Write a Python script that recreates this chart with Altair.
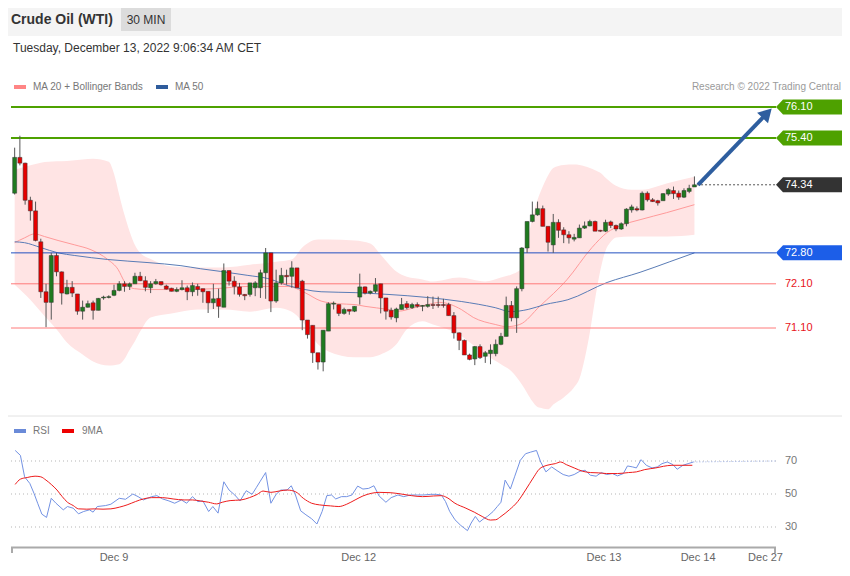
import altair as alt
import pandas as pd
import numpy as np

# ---------------- data ----------------
opens = [74.15, 74.96, 74.83, 73.99, 73.75, 73.05, 71.92, 71.68, 72.74, 72.37,
         71.87, 72.02, 71.87, 71.48, 71.57, 71.67, 71.50, 71.78, 71.79, 71.84,
         71.95, 72.10, 72.04, 72.10, 72.27, 72.17, 72.01, 72.10, 72.15, 72.05,
         72.00, 71.93, 71.97, 72.01, 71.92, 72.04, 71.99, 71.93, 71.67, 71.77,
         71.57, 72.40, 72.16, 72.03, 71.86, 71.86, 72.01, 72.01, 72.35, 72.80,
         71.71, 72.12, 72.29, 72.27, 72.46, 72.16, 71.28, 71.16, 70.54, 70.33,
         71.03, 71.64, 71.63, 71.43, 71.52, 71.48, 71.80, 72.03, 71.89, 71.93,
         72.10, 71.78, 71.50, 71.33, 71.52, 71.65, 71.56, 71.63, 71.59, 71.59,
         71.63, 71.63, 71.63, 71.63, 71.38, 70.99, 70.82, 70.49, 70.40, 70.68,
         70.46, 70.52, 70.52, 70.73, 70.91, 71.61, 71.33, 71.99, 72.91, 73.51,
         73.66, 73.80, 73.40, 72.98, 73.49, 73.32, 73.21, 73.11, 73.14, 73.36,
         73.41, 73.51, 73.31, 73.29, 73.50, 73.42, 73.34, 73.46, 73.77, 73.80,
         73.77, 74.15, 74.00, 73.98, 73.98, 74.13, 74.21, 74.15, 74.06, 74.19,
         74.29]
highs = [75.18, 75.45, 74.84, 74.07, 73.96, 73.12, 72.10, 72.80, 72.80, 72.38,
         72.19, 72.16, 71.87, 71.72, 71.72, 71.72, 71.78, 71.83, 71.84, 72.08,
         72.16, 72.16, 72.13, 72.35, 72.37, 72.27, 72.16, 72.21, 72.15, 72.08,
         72.01, 72.02, 72.18, 72.06, 72.13, 72.10, 71.99, 71.93, 72.10, 71.99,
         72.56, 72.40, 72.27, 72.12, 71.87, 72.12, 72.16, 72.42, 72.91, 72.80,
         72.42, 72.46, 72.42, 72.61, 72.46, 72.19, 71.28, 71.16, 70.54, 71.05,
         71.68, 71.70, 71.63, 71.56, 71.52, 71.59, 72.33, 72.04, 71.95, 72.23,
         72.10, 71.78, 71.56, 71.56, 71.78, 71.71, 71.67, 71.68, 71.62, 71.82,
         71.81, 71.81, 71.76, 71.67, 71.46, 71.00, 70.84, 70.52, 70.69, 70.73,
         70.58, 70.73, 70.84, 70.99, 71.81, 71.71, 72.04, 72.93, 73.51, 73.96,
         73.96, 73.87, 73.40, 73.68, 73.56, 73.38, 73.29, 73.23, 73.44, 73.51,
         73.55, 73.53, 73.32, 73.55, 73.53, 73.44, 73.49, 73.81, 73.89, 73.85,
         74.19, 74.19, 74.04, 74.00, 74.15, 74.26, 74.30, 74.21, 74.26, 74.34,
         74.53]
lows = [74.12, 74.78, 73.89, 73.53, 73.06, 71.78, 71.12, 71.29, 72.27, 71.63,
        71.86, 71.80, 71.40, 71.29, 71.56, 71.29, 71.50, 71.74, 71.77, 71.82,
        71.93, 71.92, 71.96, 72.10, 72.16, 71.93, 71.89, 72.08, 72.06, 71.97,
        71.93, 71.91, 71.95, 71.73, 71.82, 71.83, 71.67, 71.44, 71.53, 71.33,
        71.57, 72.06, 71.86, 71.81, 71.73, 71.81, 71.82, 71.78, 71.76, 71.46,
        71.67, 72.08, 72.08, 72.01, 72.01, 71.05, 70.86, 70.31, 70.16, 70.12,
        71.03, 71.52, 71.37, 71.40, 71.40, 71.46, 71.63, 71.86, 71.86, 71.89,
        71.43, 71.29, 71.29, 71.23, 71.52, 71.52, 71.53, 71.56, 71.48, 71.56,
        71.53, 71.56, 71.56, 71.38, 70.86, 70.60, 70.49, 70.37, 70.26, 70.40,
        70.31, 70.28, 70.46, 70.71, 70.91, 71.25, 70.99, 71.93, 72.80, 73.49,
        73.64, 73.40, 72.83, 72.80, 73.14, 73.02, 73.01, 73.06, 73.14, 73.34,
        73.40, 73.29, 73.27, 73.27, 73.36, 73.29, 73.32, 73.40, 73.71, 73.74,
        73.76, 73.96, 73.95, 73.87, 73.98, 74.09, 74.02, 74.00, 74.04, 74.15,
        74.29]
closes = [74.96, 74.83, 73.99, 73.75, 73.08, 71.92, 71.68, 72.74, 72.37, 71.89,
          72.02, 71.89, 71.48, 71.57, 71.65, 71.50, 71.77, 71.80, 71.81, 71.95,
          72.10, 72.04, 72.10, 72.27, 72.17, 72.02, 72.10, 72.15, 72.08, 71.98,
          71.93, 71.97, 72.01, 71.92, 72.06, 71.97, 71.92, 71.67, 71.76, 71.59,
          72.40, 72.16, 72.04, 71.86, 71.83, 72.12, 72.12, 72.35, 72.80, 71.71,
          72.12, 72.29, 72.26, 72.46, 72.01, 71.28, 70.95, 70.54, 70.33, 71.05,
          71.65, 71.66, 71.43, 71.52, 71.48, 71.59, 72.03, 71.89, 71.93, 72.08,
          71.78, 71.48, 71.35, 71.53, 71.63, 71.56, 71.63, 71.59, 71.61, 71.63,
          71.61, 71.61, 71.61, 71.38, 70.99, 70.82, 70.49, 70.39, 70.68, 70.43,
          70.54, 70.60, 70.73, 70.91, 71.61, 71.33, 71.99, 72.91, 73.51, 73.66,
          73.80, 73.40, 73.04, 73.49, 73.31, 73.21, 73.14, 73.15, 73.36, 73.41,
          73.51, 73.29, 73.29, 73.49, 73.42, 73.34, 73.46, 73.79, 73.84, 73.77,
          74.15, 74.00, 73.96, 73.93, 74.14, 74.23, 74.14, 74.06, 74.21, 74.26,
          74.34]

band_idx = [0, 3, 5, 8, 10, 13, 15, 18, 19, 20, 21, 22, 23, 24, 26, 30, 35, 40, 45, 50,
            53, 55, 58, 60, 65, 68, 70, 73, 75, 78, 80, 85, 90, 93, 95, 97, 98, 99, 100, 101,
            102, 103, 105, 107, 108, 109, 110, 111, 112, 113, 114, 115, 118, 120, 125, 130]
band_upper = [74.68, 74.78, 74.84, 74.87, 74.88, 74.91, 74.93, 74.86, 74.59, 74.11,
              73.66, 73.28, 72.98, 72.80, 72.66, 72.49, 72.47, 72.47, 72.53, 72.60,
              72.65, 72.92, 73.10, 73.10, 73.08, 73.01, 72.76, 72.38, 72.26, 72.20,
              72.15, 72.24, 72.15, 72.24, 72.31, 72.45, 73.00, 73.60, 74.00, 74.30,
              74.55, 74.72, 74.79, 74.80, 74.79, 74.76, 74.72, 74.67, 74.61, 74.50,
              74.40, 74.32, 74.23, 74.23, 74.38, 74.52]
band_lower = [72.08, 71.74, 71.47, 71.07, 70.77, 70.50, 70.34, 70.25, 70.26, 70.28,
              70.40, 70.61, 70.80, 71.02, 71.34, 71.43, 71.52, 71.52, 71.47, 71.56,
              71.47, 71.25, 70.73, 70.57, 70.44, 70.44, 70.50, 70.73, 71.07, 71.25,
              71.18, 70.95, 70.50, 70.28, 70.12, 69.82, 69.63, 69.44, 69.31, 69.28,
              69.26, 69.37, 69.53, 69.76, 69.95, 70.40, 71.00, 71.75, 72.40, 72.85,
              73.05, 73.15, 73.17, 73.17, 73.17, 73.21]

ma20_idx = [0, 1.9, 3.8, 5.7, 8.3, 11.5, 14.6, 17.8, 19.8, 21.0, 22.9, 25.5, 31.8, 38.3,
            44.6, 52.3, 55.5, 58.6, 61.8, 65.1, 67.0, 71.4, 73.3, 76.5, 79.0, 81.3, 85.4,
            87.7, 91.9, 94.1, 96.6, 100.4, 105.6, 110.4, 113.3, 115.7, 119.6, 124.7, 130.0]
ma20_val = [73.03, 73.14, 73.23, 73.17, 73.08, 72.98, 72.87, 72.65, 72.42, 72.15,
            71.99, 71.97, 71.97, 71.99, 72.04, 72.04, 71.90, 71.71, 71.65, 71.63,
            71.59, 71.52, 71.48, 71.56, 71.63, 71.68, 71.52, 71.34, 71.18, 71.13,
            71.18, 71.59, 72.19, 72.92, 73.26, 73.41, 73.55, 73.71, 73.89]

ma50_idx = [0, 1.9, 5.0, 8.3, 11.5, 17.8, 25.5, 31.8, 35.6, 39.4, 44.6, 48.4, 52.3, 55.5,
            58.6, 65.1, 71.4, 79.0, 85.4, 91.9, 94.9, 98.2, 101.4, 105.8, 113.3, 119.6,
            125.3, 130.0]
ma50_val = [73.05, 73.03, 72.92, 72.80, 72.74, 72.65, 72.58, 72.51, 72.44, 72.38,
            72.29, 72.22, 72.06, 71.97, 71.92, 71.90, 71.86, 71.79, 71.70, 71.56,
            71.47, 71.52, 71.63, 71.74, 72.13, 72.36, 72.60, 72.80]

rsi_idx = [0.1, 1.1, 1.9, 2.9, 3.7, 4.4, 5.2, 6.1, 7.0, 7.9, 9.3, 10.1, 11.2, 12.2, 13.2,
           14.3, 15.0, 15.8, 17.4, 18.4, 20.0, 21.2, 22.6, 23.6, 24.6, 26.2, 27.2, 28.3,
           29.5, 30.6, 31.9, 32.9, 34.0, 35.0, 36.0, 37.1, 37.9, 38.9, 40.0, 41.0, 42.1,
           43.1, 44.3, 45.4, 46.2, 46.9, 48.0, 49.0, 50.0, 50.9, 52.1, 52.9, 53.7, 54.7,
           55.7, 56.8, 57.8, 58.8, 59.7, 60.6, 61.4, 62.5, 63.5, 64.5, 65.6, 66.6, 67.7,
           68.7, 69.7, 71.0, 72.0, 73.3, 74.4, 75.7, 77.0, 78.2, 79.6, 80.6, 81.6, 82.4,
           83.2, 84.2, 85.3, 86.1, 86.6, 87.3, 88.1, 88.9, 89.6, 90.4, 91.5, 92.3, 93.0,
           93.8, 94.8, 95.6, 96.7, 97.7, 98.7, 99.8, 100.6, 101.6, 102.7, 103.9, 104.9,
           106.0, 107.0, 108.1, 109.1, 110.1, 111.2, 112.2, 113.2, 114.3, 115.3, 116.4,
           117.2, 118.2, 118.9, 119.8, 120.8, 121.9, 122.9, 123.8, 124.8, 125.9, 126.7,
           127.8, 128.8, 129.8]
rsi_val = [76.4, 73.4, 60.4, 56.4, 50.4, 44.4, 37.8, 35.8, 47.4, 44.4, 40.4, 42.4, 41.4,
           38.0, 39.4, 40.4, 39.0, 42.4, 43.0, 43.8, 47.4, 46.8, 50.0, 48.4, 46.4, 48.4,
           49.0, 47.0, 45.8, 44.4, 46.4, 44.4, 48.4, 45.4, 45.8, 39.4, 42.4, 38.4, 57.4,
           52.4, 49.4, 45.8, 52.0, 49.8, 53.8, 57.4, 63.0, 44.4, 49.8, 52.4, 52.4, 55.0,
           49.4, 39.8, 37.4, 35.0, 31.8, 39.4, 49.0, 49.4, 47.0, 48.4, 48.4, 49.4, 54.8,
           53.0, 53.4, 55.0, 48.8, 45.0, 47.8, 49.4, 48.4, 49.4, 49.4, 49.4, 49.8, 49.8,
           49.4, 45.4, 39.4, 34.4, 31.0, 29.0, 27.8, 32.4, 36.4, 33.0, 34.8, 36.4, 39.4,
           42.4, 45.0, 58.4, 53.0, 60.4, 70.4, 74.4, 75.4, 76.4, 69.4, 63.4, 66.4, 63.8,
           61.8, 60.8, 61.8, 63.8, 64.4, 61.4, 60.8, 63.0, 61.8, 62.4, 61.0, 62.4, 67.0,
           66.4, 65.8, 70.8, 67.4, 65.8, 66.4, 68.4, 69.4, 67.8, 65.0, 67.4, 68.4, 69.4]

ma9_idx = [0.1, 1.1, 2.4, 3.9, 5.0, 6.0, 7.0, 8.1, 9.1, 10.1, 11.2, 12.2, 13.8, 15.3,
           16.9, 18.4, 20.0, 21.5, 23.1, 24.6, 26.2, 28.3, 30.3, 32.4, 34.0, 35.5, 37.1,
           38.6, 39.7, 41.2, 43.3, 44.9, 46.4, 47.5, 49.0, 50.6, 52.1, 53.7, 55.2, 56.8,
           58.3, 60.4, 62.0, 63.5, 65.1, 66.6, 68.2, 69.7, 71.8, 73.9, 75.9, 78.0, 80.1,
           81.6, 82.7, 84.2, 86.3, 87.9, 89.4, 91.0, 92.0, 93.0, 94.6, 96.2, 97.7, 99.3,
           100.3, 101.8, 103.4, 104.4, 105.5, 107.0, 108.6, 110.1, 111.7, 113.2, 115.3,
           117.4, 118.9, 120.5, 122.6, 124.1, 125.7, 127.8, 129.6]
ma9_val = [55.8, 59.0, 60.0, 60.8, 60.4, 58.4, 55.8, 52.4, 48.4, 45.0, 43.0, 41.0, 40.8,
           41.0, 40.8, 41.0, 42.0, 43.4, 45.4, 47.0, 47.8, 47.8, 47.0, 46.4, 46.4, 45.8,
           45.0, 44.0, 45.0, 46.0, 46.4, 47.8, 49.8, 51.8, 51.0, 51.8, 52.4, 51.4, 47.4,
           44.4, 43.4, 42.8, 42.4, 43.8, 46.4, 48.8, 50.4, 51.0, 50.8, 50.0, 49.0, 48.4,
           48.8, 49.0, 47.8, 44.4, 41.4, 39.0, 36.4, 34.2, 34.4, 36.4, 40.4, 45.4, 52.4,
           60.4, 65.0, 67.4, 68.4, 69.4, 67.8, 65.8, 63.8, 63.0, 62.8, 62.4, 62.4, 63.0,
           63.4, 64.8, 65.8, 66.8, 67.4, 67.4, 67.4]

resistance_levels = [76.10, 75.40]
pivot_level = [72.80]
support_levels = [72.10, 71.10]
last_price = [74.34]
target_idx = [130.7, 143.9]
target_price = [74.34, 75.96]
rsi_levels = [70, 50, 30]
rsi_ext_idx = [129.8, 145.6]
rsi_ext_val = [69.4, 70.0]
xtick_idx = [19.0, 65.8, 112.7, 130.7, 143.6]
xtick_labels = ["Dec 9", "Dec 12", "Dec 13", "Dec 14", "Dec 27"]

# ---------------- tables ----------------
n = len(opens)
candles = pd.DataFrame({"i": np.arange(n), "open": opens, "high": highs,
                        "low": lows, "close": closes})
candles["blo"] = candles[["open", "close"]].min(axis=1)
candles["bhi"] = candles[["open", "close"]].max(axis=1)
candles["dir"] = np.where(candles["close"] >= candles["open"], "up", "down")

band_df = pd.DataFrame({"i": band_idx, "upper": band_upper, "lower": band_lower})
ma20_df = pd.DataFrame({"i": ma20_idx, "v": ma20_val})
ma50_df = pd.DataFrame({"i": ma50_idx, "v": ma50_val})
rsi_df = pd.DataFrame({"i": rsi_idx, "v": rsi_val})
ma9_df = pd.DataFrame({"i": ma9_idx, "v": ma9_val})
rsi_ext_df = pd.DataFrame({"i": rsi_ext_idx, "v": rsi_ext_val})
res_df = pd.DataFrame({"price": resistance_levels})
piv_df = pd.DataFrame({"price": pivot_level})
sup_df = pd.DataFrame({"price": support_levels})
last_df = pd.DataFrame({"price": last_price, "i": [n - 0.5]})
arrow_df = pd.DataFrame({"i": target_idx, "price": target_price})
tags_df = pd.DataFrame({
    "price": resistance_levels + last_price + pivot_level,
    "fill": ["#4ea100", "#4ea100", "#333333", "#1c5ee8"],
})
rsi_lv_df = pd.DataFrame({"level": rsi_levels})
xt_df = pd.DataFrame({"i": xtick_idx, "label": xtick_labels})
one = pd.DataFrame({"k": [0]})

# ---------------- scales ----------------
XS = alt.Scale(domain=[-0.7, 145.6], range=[3, 768], nice=False, zero=False, padding=0)
PS = alt.Scale(domain=[71.10, 76.10], range=[320, 99], nice=False, zero=False, padding=0)
RS = alt.Scale(domain=[30, 70], range=[519, 453], nice=False, zero=False, padding=0)


def xq(f):
    return alt.X(f"{f}:Q", scale=XS, axis=None)


def yp(f):
    return alt.Y(f"{f}:Q", scale=PS, axis=None)


def yr(f):
    return alt.Y(f"{f}:Q", scale=RS, axis=None)


FONT = "Liberation Sans"
TAG = "M -1 0 L -0.8 -0.2143 L 1 -0.2143 L 1 0.2143 L -0.8 0.2143 Z"

layers = []

# header
layers.append(alt.Chart(one).mark_rect(color="#f4f4f4").encode(
    x=alt.value(0), x2=alt.value(834), y=alt.value(0), y2=alt.value(28)))
layers.append(alt.Chart(one).mark_rect(color="#dcdcdc").encode(
    x=alt.value(113), x2=alt.value(163), y=alt.value(0), y2=alt.value(23)))
layers.append(alt.Chart(one).mark_text(font=FONT, fontSize=14, fontWeight="bold",
                                       color="#333333", align="left", baseline="middle").encode(
    x=alt.value(3), y=alt.value(11.5), text=alt.value("Crude Oil (WTI)")))
layers.append(alt.Chart(one).mark_text(font=FONT, fontSize=12, color="#333333",
                                       align="center", baseline="middle").encode(
    x=alt.value(138), y=alt.value(11.5), text=alt.value("30 MIN")))
layers.append(alt.Chart(one).mark_text(font=FONT, fontSize=12, color="#333333",
                                       align="left", baseline="middle").encode(
    x=alt.value(5), y=alt.value(40), text=alt.value("Tuesday, December 13, 2022 9:06:34 AM CET")))

# legends
layers.append(alt.Chart(one).mark_rect(color="#ff8585").encode(
    x=alt.value(6), x2=alt.value(18), y=alt.value(77), y2=alt.value(81)))
layers.append(alt.Chart(one).mark_text(font=FONT, fontSize=10, color="#777777",
                                       align="left", baseline="middle").encode(
    x=alt.value(25), y=alt.value(79), text=alt.value("MA 20 + Bollinger Bands")))
layers.append(alt.Chart(one).mark_rect(color="#2f5c9c").encode(
    x=alt.value(148), x2=alt.value(160), y=alt.value(77), y2=alt.value(81)))
layers.append(alt.Chart(one).mark_text(font=FONT, fontSize=10, color="#777777",
                                       align="left", baseline="middle").encode(
    x=alt.value(167), y=alt.value(79), text=alt.value("MA 50")))
layers.append(alt.Chart(one).mark_text(font=FONT, fontSize=10, color="#9a9a9a",
                                       align="right", baseline="middle").encode(
    x=alt.value(833), y=alt.value(79), text=alt.value("Research \u00a9 2022 Trading Central")))

# price panel
layers.append(alt.Chart(band_df).mark_area(color="#ffe4e4", interpolate="monotone").encode(
    x=xq("i"), y=yp("upper"), y2=alt.Y2("lower:Q")))
layers.append(alt.Chart(ma20_df).mark_line(color="#ff9a9a", strokeWidth=1,
                                           interpolate="monotone").encode(x=xq("i"), y=yp("v")))
layers.append(alt.Chart(ma50_df).mark_line(color="#5a7cb6", strokeWidth=1,
                                           interpolate="monotone").encode(x=xq("i"), y=yp("v")))
layers.append(alt.Chart(res_df).mark_rule(color="#4ea100", strokeWidth=2).encode(
    x=alt.value(3), x2=alt.value(768), y=yp("price")))
layers.append(alt.Chart(piv_df).mark_rule(color="#2350c0", strokeWidth=1).encode(
    x=alt.value(3), x2=alt.value(768), y=yp("price")))
layers.append(alt.Chart(sup_df).mark_rule(color="#ff7a7a", strokeWidth=1).encode(
    x=alt.value(3), x2=alt.value(768), y=yp("price")))
layers.append(alt.Chart(sup_df).mark_text(font=FONT, fontSize=11, color="#e8141b",
                                          align="left", baseline="middle").encode(
    x=alt.value(777), y=yp("price"), text=alt.Text("price:Q", format=".2f")))

# candles
layers.append(alt.Chart(candles).mark_rule(color="#555555", strokeWidth=1).encode(
    x=xq("i"), y=yp("low"), y2=alt.Y2("high:Q")))
layers.append(alt.Chart(candles).mark_bar(size=4, stroke="#333333", strokeWidth=0.5).encode(
    x=xq("i"), y=yp("blo"), y2=alt.Y2("bhi:Q"),
    color=alt.Color("dir:N", scale=alt.Scale(domain=["up", "down"],
                                             range=["#1f7a1f", "#e50000"]), legend=None)))

# last price dotted + target arrow
layers.append(alt.Chart(last_df).mark_rule(color="#555555", strokeWidth=1,
                                           strokeDash=[2, 2]).encode(
    x=xq("i"), x2=alt.value(768), y=yp("price")))
layers.append(alt.Chart(arrow_df).mark_line(color="#2e5e9f", strokeWidth=4).encode(
    x=xq("i"), y=yp("price")))
layers.append(alt.Chart(arrow_df.tail(1)).mark_point(shape="triangle-up", filled=True,
                                                     size=230, angle=44, opacity=1,
                                                     color="#2e5e9f").encode(
    x=xq("i"), y=yp("price")))

# tags
layers.append(alt.Chart(tags_df).mark_point(shape=TAG, filled=True, size=4900, opacity=1).encode(
    x=alt.value(803), y=yp("price"), color=alt.Color("fill:N", scale=None)))
layers.append(alt.Chart(tags_df).mark_text(font=FONT, fontSize=11, color="white",
                                           align="left", baseline="middle").encode(
    x=alt.value(777), y=yp("price"), text=alt.Text("price:Q", format=".2f")))

# separator
layers.append(alt.Chart(one).mark_rule(color="#e2e2e2", strokeWidth=1).encode(
    x=alt.value(0), x2=alt.value(834), y=alt.value(408)))

# RSI panel
layers.append(alt.Chart(one).mark_rect(color="#6a8ad8").encode(
    x=alt.value(6), x2=alt.value(18), y=alt.value(421), y2=alt.value(425)))
layers.append(alt.Chart(one).mark_text(font=FONT, fontSize=10, color="#777777",
                                       align="left", baseline="middle").encode(
    x=alt.value(25), y=alt.value(423), text=alt.value("RSI")))
layers.append(alt.Chart(one).mark_rect(color="#ee0000").encode(
    x=alt.value(54), x2=alt.value(66), y=alt.value(421), y2=alt.value(425)))
layers.append(alt.Chart(one).mark_text(font=FONT, fontSize=10, color="#777777",
                                       align="left", baseline="middle").encode(
    x=alt.value(74), y=alt.value(423), text=alt.value("9MA")))
layers.append(alt.Chart(rsi_lv_df).mark_rule(color="#b5b5b5", strokeWidth=1,
                                             strokeDash=[1, 3]).encode(
    x=alt.value(3), x2=alt.value(768), y=yr("level")))
layers.append(alt.Chart(rsi_lv_df).mark_text(font=FONT, fontSize=11, color="#777777",
                                             align="left", baseline="middle").encode(
    x=alt.value(777), y=yr("level"), text="level:Q"))
layers.append(alt.Chart(rsi_ext_df).mark_line(color="#9fb3ea", strokeWidth=1,
                                              strokeDash=[1, 2]).encode(x=xq("i"), y=yr("v")))
layers.append(alt.Chart(rsi_df).mark_line(color="#7392e3", strokeWidth=1).encode(
    x=xq("i"), y=yr("v")))
layers.append(alt.Chart(ma9_df).mark_line(color="#ee1c1c", strokeWidth=1,
                                          interpolate="monotone").encode(x=xq("i"), y=yr("v")))

# x axis
layers.append(alt.Chart(one).mark_rule(color="#aaaaaa", strokeWidth=2).encode(
    x=alt.value(3), x2=alt.value(768), y=alt.value(539.5)))
layers.append(alt.Chart(one).mark_rule(color="#aaaaaa", strokeWidth=2).encode(
    x=alt.value(4), y=alt.value(539), y2=alt.value(545)))
layers.append(alt.Chart(one).mark_rule(color="#aaaaaa", strokeWidth=2).encode(
    x=alt.value(767), y=alt.value(539), y2=alt.value(545)))
layers.append(alt.Chart(xt_df).mark_text(font=FONT, fontSize=11, color="#666666",
                                         align="center", baseline="middle").encode(
    x=xq("i"), y=alt.value(550), text="label:N"))

chart = alt.layer(*layers).resolve_scale(y="independent").properties(
    width=834, height=560, padding=0,
    autosize=alt.AutoSizeParams(type="none"),
).configure_view(stroke=None)

chart.save("out.html", embed_options={"renderer": "svg", "actions": False})
